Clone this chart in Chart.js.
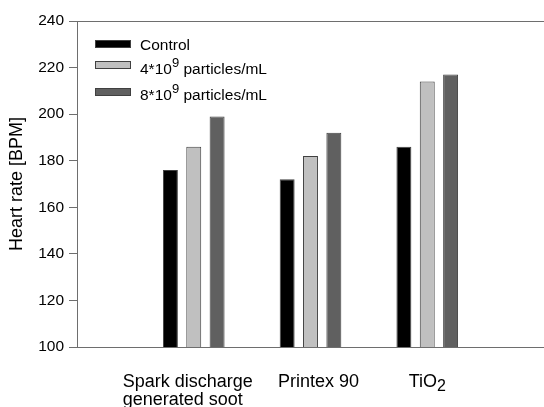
<!DOCTYPE html>
<html>
<head>
<meta charset="utf-8">
<script src="https://cdn.jsdelivr.net/npm/chart.js@4/dist/chart.umd.min.js"></script>
<style>
  html, body { margin: 0; padding: 0; background: #fff; }
  #wrap { width: 544px; height: 407px; position: relative; }
</style>
</head>
<body>
<div id="wrap"><canvas id="c"></canvas></div>
<script>
// Particle types (x groups); "_{..}" marks a subscript, "\n" a line break
const categories = ['Spark discharge\ngenerated soot', 'Printex 90', 'TiO_{2}'];
// Series names; "^{..}" marks a superscript
const seriesNames = ['Control', '4*10^{9} particles/mL', '8*10^{9} particles/mL'];
// Heart rate [BPM] per particle type
const controlValues = [176, 172, 186];
const lowDoseValues = [186, 182, 214];
const highDoseValues = [199, 192, 217];
// Y axis range and tick step
const yMin = 100, yMax = 240, yStep = 20;

const FAMILY = '"Liberation Sans", Arial, Helvetica, sans-serif';
const fills = ['#000000', '#c0c0c0', '#606060'];
const edge = '#404040';
const axisColor = '#6e6e6e';

// Split a string into plain / superscript / subscript runs
function runs(str) {
  const out = [];
  const re = /(\^\{[^}]*\}|_\{[^}]*\})/g;
  let last = 0, m;
  while ((m = re.exec(str)) !== null) {
    if (m.index > last) out.push({ t: str.slice(last, m.index), k: 0 });
    out.push({ t: m[0].slice(2, -1), k: m[0][0] === '^' ? 1 : -1 });
    last = re.lastIndex;
  }
  if (last < str.length) out.push({ t: str.slice(last), k: 0 });
  return out;
}
function runFont(size, k) {
  const s = k === 1 ? size * 0.84 : (k === -1 ? size * 0.89 : size);
  return s.toFixed(2) + 'px ' + FAMILY;
}
function richWidth(ctx, str, size) {
  let w = 0;
  for (const r of runs(str)) { ctx.font = runFont(size, r.k); w += ctx.measureText(r.t).width; }
  return w;
}
function drawRich(ctx, str, x, y, size) {
  ctx.textAlign = 'left';
  ctx.textBaseline = 'alphabetic';
  for (const r of runs(str)) {
    ctx.font = runFont(size, r.k);
    const dy = r.k === 1 ? -size * 0.42 : (r.k === -1 ? size * 0.24 : 0);
    ctx.fillText(r.t, x, y + dy);
    x += ctx.measureText(r.t).width;
  }
}

// Frame line along the top of the plot area
const frameTop = {
  id: 'frameTop',
  afterDraw(chart) {
    const { ctx, chartArea: a } = chart;
    ctx.save();
    ctx.strokeStyle = axisColor;
    ctx.lineWidth = 1;
    ctx.beginPath();
    ctx.moveTo(a.left, Math.round(a.top) + 0.5);
    ctx.lineTo(a.right, Math.round(a.top) + 0.5);
    ctx.stroke();
    ctx.restore();
  }
};

// Category names under the groups, with line breaks and subscripts
const groupLabels = {
  id: 'groupLabels',
  afterDraw(chart) {
    const { ctx, chartArea: a } = chart;
    const xs = chart.scales.x;
    const size = 18, lineGap = 17.5;
    const nudge = [-6, 8, 0]; // horizontal label fine-tuning, px
    ctx.save();
    ctx.fillStyle = '#000';
    categories.forEach((cat, i) => {
      const cx = xs.getPixelForValue(i + 1) + nudge[i];
      const lines = cat.split('\n');
      const maxW = Math.max(...lines.map(l => richWidth(ctx, l, size)));
      const left = cx - maxW / 2;
      lines.forEach((l, k) => drawRich(ctx, l, left, a.bottom + 40 + k * lineGap, size));
    });
    ctx.restore();
  }
};

// Legend in the upper left corner of the plot area
const cornerLegend = {
  id: 'cornerLegend',
  afterDraw(chart) {
    const { ctx, chartArea: a } = chart;
    const size = 15.5;
    const boxTops = [19, 40, 67];
    const baselines = [28.5, 52.5, 79];
    ctx.save();
    chart.data.datasets.forEach((ds, i) => {
      const bx = a.left + 18, by = a.top + boxTops[i];
      ctx.fillStyle = ds.backgroundColor;
      ctx.fillRect(bx, by, 36, 8);
      ctx.strokeStyle = edge;
      ctx.lineWidth = 1;
      ctx.strokeRect(bx + 0.5, by + 0.5, 35, 7);
      ctx.fillStyle = '#000';
      drawRich(ctx, seriesNames[i], a.left + 63, a.top + baselines[i], size);
    });
    ctx.restore();
  }
};

const seriesValues = [controlValues, lowDoseValues, highDoseValues];
const datasets = seriesValues.map((vals, s) => ({
  label: seriesNames[s],
  data: vals.map((v, i) => ({ x: i + 1, y: v })),
  backgroundColor: fills[s],
  borderColor: edge,
  borderWidth: 1,
  categoryPercentage: 0.6,
  barPercentage: 0.64
}));

new Chart(document.getElementById('c'), {
  type: 'bar',
  data: { datasets },
  plugins: [frameTop, groupLabels, cornerLegend],
  options: {
    responsive: true,
    maintainAspectRatio: false,
    animation: false,
    layout: { padding: { top: 21, right: 0, left: 0, bottom: 0 } },
    plugins: {
      legend: { display: false },
      tooltip: { enabled: false }
    },
    scales: {
      x: {
        type: 'linear',
        min: 0,
        max: 4,
        offset: false,
        ticks: { display: false, stepSize: 1 },
        grid: { display: false, offset: false },
        border: { display: true, color: axisColor, width: 1 },
        afterFit(scale) { scale.height = 60; }
      },
      y: {
        min: yMin,
        max: yMax,
        ticks: {
          stepSize: yStep,
          padding: 5,
          color: '#000',
          font: { family: FAMILY, size: 15.5 }
        },
        grid: {
          drawOnChartArea: false,
          drawTicks: true,
          tickLength: 8,
          color: axisColor
        },
        border: { display: true, color: axisColor, width: 1 },
        title: {
          display: true,
          text: 'Heart rate [BPM]',
          color: '#000',
          font: { family: FAMILY, size: 18 },
          padding: { top: 6, bottom: 0 }
        },
        afterFit(scale) { scale.width = 77; }
      }
    }
  }
});
</script>
</body>
</html>
